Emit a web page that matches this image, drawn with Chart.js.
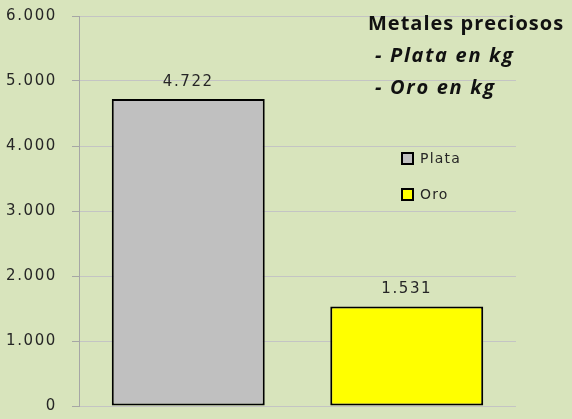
<!DOCTYPE html>
<html>
<head>
<meta charset="utf-8">
<script src="https://cdn.jsdelivr.net/npm/chart.js@4/dist/chart.umd.min.js"></script>
<style>
  html, body { margin: 0; padding: 0; background: #d8e4bc; }
  #wrap { width: 572px; height: 419px; }
</style>
</head>
<body>
<div id="wrap"><canvas id="metalesChart" width="572" height="419"></canvas></div>
<script>
// Datos del gráfico
const categorias = ['Plata', 'Oro'];
const valoresPlata = [4722, null];
const valoresOro = [null, 1531];
const coloresSeries = ['#c0c0c0', '#ffff00'];
const ticksY = [0, 1000, 2000, 3000, 4000, 5000, 6000];
const tituloLineas = ['Metales preciosos', '- Plata en kg', '- Oro en kg'];

// Formato con punto de miles
function formatoMiles(v) {
    return String(v).replace(/\B(?=(\d{3})+(?!\d))/g, '.');
}

// El texto del original es más ancho: espaciado de letras
const espaciadoPlugin = {
    id: 'espaciado',
    beforeDraw(chart) {
        chart.ctx.letterSpacing = '1.6px';
    }
};

// Etiquetas de valor encima de las barras
const etiquetasPlugin = {
    id: 'etiquetas',
    afterDatasetsDraw(chart) {
        const ctx = chart.ctx;
        ctx.save();
        ctx.letterSpacing = '1.6px';
        ctx.font = '15px "DejaVu Sans"';
        ctx.fillStyle = '#262626';
        ctx.textAlign = 'center';
        ctx.textBaseline = 'middle';
        chart.data.datasets.forEach((ds, i) => {
            chart.getDatasetMeta(i).data.forEach((bar, j) => {
                if (ds.data[j] == null) return;
                ctx.fillText(formatoMiles(ds.data[j]), bar.x, bar.y - 17);
            });
        });
        ctx.restore();
    }
};

// Título y leyenda dentro del área
const textosPlugin = {
    id: 'textos',
    afterDraw(chart) {
        const ctx = chart.ctx;
        ctx.save();
        ctx.fillStyle = '#111';
        ctx.textBaseline = 'middle';
        ctx.textAlign = 'left';
        ctx.letterSpacing = '1px';
        ctx.font = 'bold 20px "Open Sans"';
        ctx.fillText(tituloLineas[0], 368, 24);
        ctx.letterSpacing = '1.7px';
        ctx.font = 'italic bold 20px "Open Sans"';
        ctx.fillText(tituloLineas[1], 375, 56);
        ctx.fillText(tituloLineas[2], 375, 88);

        // leyenda
        ctx.letterSpacing = '1.2px';
        ctx.font = '14px "DejaVu Sans"';
        chart.data.datasets.forEach((ds, i) => {
            const y = 158 + i * 36;
            ctx.fillStyle = ds.backgroundColor;
            ctx.fillRect(402, y - 5, 11, 11);
            ctx.strokeStyle = '#000';
            ctx.lineWidth = 2;
            ctx.strokeRect(402, y - 5, 11, 11);
            ctx.fillStyle = '#262626';
            ctx.fillText(ds.label, 420, y + 1);
        });
        ctx.restore();
    }
};

new Chart(document.getElementById('metalesChart').getContext('2d'), {
    type: 'bar',
    data: {
        labels: categorias,
        datasets: [
            {
                label: 'Plata',
                data: valoresPlata,
                backgroundColor: coloresSeries[0],
                borderColor: '#000',
                borderWidth: 2,
                borderSkipped: false,
                grouped: false,
                barPercentage: 0.7,
                categoryPercentage: 1
            },
            {
                label: 'Oro',
                data: valoresOro,
                backgroundColor: coloresSeries[1],
                borderColor: '#000',
                borderWidth: 2,
                borderSkipped: false,
                grouped: false,
                barPercentage: 0.7,
                categoryPercentage: 1
            }
        ]
    },
    options: {
        responsive: false,
        animation: false,
        devicePixelRatio: 1,
        layout: { padding: { top: 16, right: 56, bottom: 13, left: 0 } },
        plugins: {
            legend: { display: false },
            tooltip: { enabled: false }
        },
        scales: {
            x: { display: false },
            y: {
                min: 0,
                max: 6000,
                afterBuildTicks(scale) {
                    scale.ticks = ticksY.map(v => ({ value: v }));
                },
                afterFit(scale) {
                    scale.width = 79;
                    scale.paddingTop = 0;
                    scale.paddingBottom = 0;
                },
                border: { color: '#a6a6a6', width: 1 },
                grid: { color: '#c4c4c4', tickLength: 7, drawTicks: true, tickColor: '#a6a6a6' },
                ticks: {
                    padding: 15,
                    color: '#262626',
                    font: { family: 'DejaVu Sans', size: 15 },
                    callback: v => formatoMiles(v)
                }
            }
        }
    },
    plugins: [espaciadoPlugin, etiquetasPlugin, textosPlugin]
});
</script>
</body>
</html>
